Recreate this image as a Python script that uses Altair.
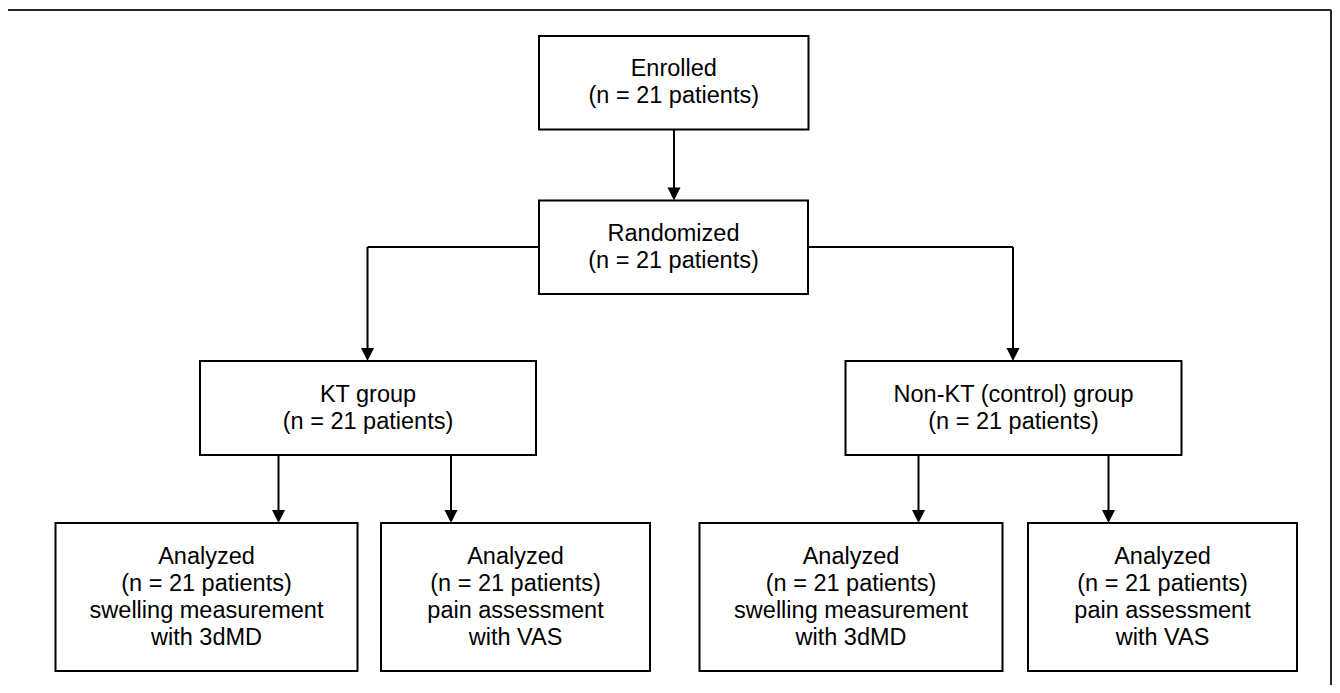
import altair as alt
import pandas as pd

# ---- content of the flowchart boxes ----
node_titles = [
    "Enrolled",
    "Randomized",
    "KT group",
    "Non-KT (control) group",
    "Analyzed",
    "Analyzed",
    "Analyzed",
    "Analyzed",
]
node_patients = [21, 21, 21, 21, 21, 21, 21, 21]
node_details = [
    "",
    "",
    "",
    "",
    "swelling measurement\nwith 3dMD",
    "pain assessment\nwith VAS",
    "swelling measurement\nwith 3dMD",
    "pain assessment\nwith VAS",
]

# ---- layout (page pixel coordinates) ----
box_left = [539, 539, 200, 845.5, 55.5, 381, 699.5, 1028]
box_right = [808.5, 808, 536, 1181.5, 357.5, 650, 1002.5, 1297]
box_top = [36, 200.5, 361, 361, 523, 523, 523, 523]
box_bottom = [129.5, 294, 455, 455, 671, 671, 671, 671]

# connector segments: x0, y0, x1, y1
seg_x0 = [674, 539, 367.5, 808, 1013, 278.5, 451, 918.5, 1108.5]
seg_y0 = [129.5, 247, 247, 247, 247, 455, 455, 455, 455]
seg_x1 = [674, 367.5, 367.5, 1013, 1013, 278.5, 451, 918.5, 1108.5]
seg_y1 = [195, 247, 356, 247, 356, 517, 517, 517, 517]

# arrow tips
tip_x = [674, 367.5, 1013, 278.5, 451, 918.5, 1108.5]
tip_y = [200.5, 361, 361, 523, 523, 523, 523]
HEAD = 13
LINE_H = 27

# outer frame
frame_x0 = [7, 7, 1331]
frame_y0 = [10, 10, 10]
frame_x1 = [1331, 7, 1331]
frame_y1 = [10, 685, 685]

labels = []
n_lines = []
for t, n, d in zip(node_titles, node_patients, node_details):
    s = f"{t}\n(n = {n} patients)"
    if d:
        s += "\n" + d
    labels.append(s)
    n_lines.append(s.count("\n") + 1)

boxes_df = pd.DataFrame({
    "x0": box_left, "x1": box_right, "y0": box_top, "y1": box_bottom,
    "label": labels, "lines": n_lines,
})
boxes_df["cx"] = (boxes_df["x0"] + boxes_df["x1"]) / 2
boxes_df["cy"] = (boxes_df["y0"] + boxes_df["y1"]) / 2 - (boxes_df["lines"] - 1) / 2 * LINE_H

seg_df = pd.DataFrame({"x0": seg_x0, "y0": seg_y0, "x1": seg_x1, "y1": seg_y1})
head_df = pd.DataFrame({"x": tip_x, "y": [v - HEAD / 2 for v in tip_y]})
frame_df = pd.DataFrame({"x0": frame_x0, "y0": frame_y0, "x1": frame_x1, "y1": frame_y1})

xs = alt.Scale(domain=[8, 1332], nice=False, zero=False)
ys = alt.Scale(domain=[8, 685], nice=False, zero=False, reverse=True)

frame = alt.Chart(frame_df).mark_rule(color="#262626", strokeWidth=2).encode(
    x=alt.X("x0:Q", scale=xs, axis=None), x2="x1:Q",
    y=alt.Y("y0:Q", scale=ys, axis=None), y2="y1:Q",
)

links = alt.Chart(seg_df).mark_rule(color="black", strokeWidth=2).encode(
    x=alt.X("x0:Q", scale=xs, axis=None), x2="x1:Q",
    y=alt.Y("y0:Q", scale=ys, axis=None), y2="y1:Q",
)

boxes = alt.Chart(boxes_df).mark_rect(fill="white", stroke="black", strokeWidth=2).encode(
    x=alt.X("x0:Q", scale=xs, axis=None), x2="x1:Q",
    y=alt.Y("y0:Q", scale=ys, axis=None), y2="y1:Q",
)

heads = alt.Chart(head_df).mark_point(
    shape="M-1,-1L1,-1L0,1Z", size=HEAD * HEAD, filled=True, color="black", opacity=1
).encode(
    x=alt.X("x:Q", scale=xs, axis=None),
    y=alt.Y("y:Q", scale=ys, axis=None),
)

texts = alt.Chart(boxes_df).mark_text(
    font="Liberation Sans", fontSize=23.5, lineHeight=LINE_H, lineBreak="\n",
    align="center", baseline="middle", color="black",
).encode(
    x=alt.X("cx:Q", scale=xs, axis=None),
    y=alt.Y("cy:Q", scale=ys, axis=None),
    text="label:N",
)

chart = alt.layer(frame, links, boxes, heads, texts).properties(
    width=1324, height=677, padding=0, autosize="none", background="white"
).configure_view(stroke=None)

chart.save("out.html", embed_options={"renderer": "svg", "actions": False})
